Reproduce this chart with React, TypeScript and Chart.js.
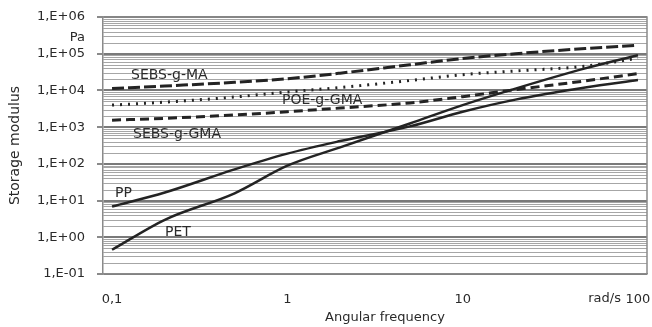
import React, { useEffect, useRef } from "react";
import { Chart, registerables } from "chart.js";

Chart.register(...registerables);

// Angular frequency (rad/s)
const freq = [0.1, 0.2, 0.5, 1, 2, 5, 10, 20, 50, 100];
// Storage modulus (Pa)
const sebsMA = [11200, 13200, 16600, 20900, 29500, 50000, 74000, 100000, 138000, 170000];
const poeGMA = [3980, 4790, 6610, 9120, 12000, 18600, 26900, 33900, 45700, 75900];
const sebsGMA = [1550, 1740, 2140, 2630, 3310, 4570, 6760, 10500, 18200, 28800];
const pp = [6.9, 16.6, 70.8, 190, 417, 1047, 2630, 5620, 12000, 19100];
const pet = [0.457, 3.0, 15.8, 89.1, 282, 1259, 3980, 11200, 39800, 91200];

const xTicks = [0.1, 1, 10, 100];
const xTickLabels = ["0,1", "1", "10", "100"];
const yMinExp = -1;
const yMaxExp = 6;

const FONT = "'DejaVu Sans', sans-serif";
const TEXT = "#2a2a2a";
const LINE = "#232323";

function yLabel(v: number) {
  const e = Math.round(Math.log10(v));
  const s = e < 0 ? "-" : "+";
  const a = Math.abs(e);
  return "1,E" + s + (a < 10 ? "0" + a : String(a));
}

const pts = (vals: number[]) => freq.map((f, i) => ({ x: f, y: vals[i] }));

const minorGridPlugin = {
  id: "minorGrid",
  beforeDatasetsDraw(chart: any) {
    const { ctx, chartArea: a, scales } = chart;
    ctx.save();
    ctx.strokeStyle = "#a6a6a6";
    ctx.lineWidth = 1;
    for (let e = yMinExp; e < yMaxExp; e++) {
      const p = Math.pow(10, e);
      for (let m = 2; m <= 9; m++) {
        const y = Math.round(scales.y.getPixelForValue(m * p)) + 0.5;
        ctx.beginPath();
        ctx.moveTo(a.left, y);
        ctx.lineTo(a.right, y);
        ctx.stroke();
      }
    }
    ctx.restore();
  },
};

const labelsPlugin = {
  id: "labelsPlugin",
  afterDatasetsDraw(chart: any) {
    const { ctx, chartArea: a, scales } = chart;
    ctx.save();
    ctx.strokeStyle = "#8a8a8a";
    ctx.lineWidth = 1.5;
    ctx.beginPath();
    ctx.moveTo(a.left, a.top);
    ctx.lineTo(a.right, a.top);
    ctx.lineTo(a.right, a.bottom);
    ctx.stroke();

    ctx.fillStyle = TEXT;
    ctx.textBaseline = "middle";
    ctx.font = `13px ${FONT}`;
    ctx.textAlign = "right";
    ctx.fillText("Pa", 85, 38);

    ctx.font = `14px ${FONT}`;
    ctx.textAlign = "left";
    ctx.fillText("SEBS-g-MA", 131, 75);
    ctx.fillText("POE-g-GMA", 282, 100);
    ctx.fillText("SEBS-g-GMA", 133, 134);
    ctx.fillText("PP", 115, 193);
    ctx.fillText("PET", 165, 232);

    ctx.font = `13px ${FONT}`;
    ctx.textAlign = "center";
    ctx.fillText("Angular frequency", (a.left + a.right) / 2 + 10, 318);
    ctx.save();
    ctx.font = `14px ${FONT}`;
    ctx.translate(15, (a.top + a.bottom) / 2);
    ctx.rotate(-Math.PI / 2);
    ctx.fillText("Storage modulus", 0, 0);
    ctx.restore();

    const x100 = scales.x.getPixelForValue(100);
    ctx.textAlign = "right";
    ctx.fillText("rad/s", x100 - 17, 299);
    ctx.restore();
  },
};

export default function App() {
  const ref = useRef<HTMLCanvasElement | null>(null);

  useEffect(() => {
    document.body.style.margin = "0";
    const canvas = ref.current;
    if (!canvas) return;

    const base = {
      borderColor: LINE,
      backgroundColor: LINE,
      borderWidth: 2.5,
      pointRadius: 0,
      fill: false,
      cubicInterpolationMode: "monotone" as const,
    };

    const chart = new Chart(canvas, {
      type: "line",
      data: {
        datasets: [
          { ...base, label: "SEBS-g-MA", data: pts(sebsMA), borderDash: [12, 4], borderWidth: 3 },
          { ...base, label: "POE-g-GMA", data: pts(poeGMA), borderDash: [2, 6], borderWidth: 3 },
          { ...base, label: "SEBS-g-GMA", data: pts(sebsGMA), borderDash: [9, 5], borderWidth: 3 },
          { ...base, label: "PP", data: pts(pp) },
          { ...base, label: "PET", data: pts(pet) },
        ],
      },
      options: {
        animation: false,
        responsive: true,
        maintainAspectRatio: false,
        layout: { padding: { left: 0, right: 5, top: 17, bottom: 0 } },
        plugins: { legend: { display: false }, tooltip: { enabled: false } },
        scales: {
          x: {
            type: "logarithmic",
            min: 0.0888,
            max: 112.6,
            afterBuildTicks: (scale: any) => {
              scale.ticks = xTicks.map((v) => ({ value: v }));
            },
            afterFit: (scale: any) => {
              scale.height = 53;
              scale.paddingLeft = 0;
              scale.paddingRight = 0;
            },
            grid: { display: false, drawTicks: false },
            border: { display: true, color: "#8a8a8a", width: 1.5 },
            ticks: {
              autoSkip: false,
              maxRotation: 0,
              padding: 18,
              color: TEXT,
              font: { family: FONT, size: 13 },
              callback: (v: any, i: number) => xTickLabels[i],
            },
          },
          y: {
            type: "logarithmic",
            min: Math.pow(10, yMinExp),
            max: Math.pow(10, yMaxExp),
            afterBuildTicks: (scale: any) => {
              const t: { value: number }[] = [];
              for (let e = yMinExp; e <= yMaxExp; e++) t.push({ value: Math.pow(10, e) });
              scale.ticks = t;
            },
            afterFit: (scale: any) => {
              scale.width = 103;
              scale.paddingTop = 0;
              scale.paddingBottom = 0;
            },
            grid: {
              color: "#7a7a7a",
              lineWidth: 2,
              tickColor: "#8a8a8a",
              tickLength: 6,
              drawTicks: true,
            },
            border: { display: true, color: "#8a8a8a", width: 1.5 },
            ticks: {
              autoSkip: false,
              padding: 12,
              color: TEXT,
              font: { family: FONT, size: 13 },
              callback: (v: any) => yLabel(Number(v)),
            },
          },
        },
      },
      plugins: [minorGridPlugin, labelsPlugin],
    } as any);

    return () => chart.destroy();
  }, []);

  return (
    <div style={{ width: 652, height: 327, position: "relative", background: "#fff" }}>
      <canvas ref={ref} />
    </div>
  );
}
